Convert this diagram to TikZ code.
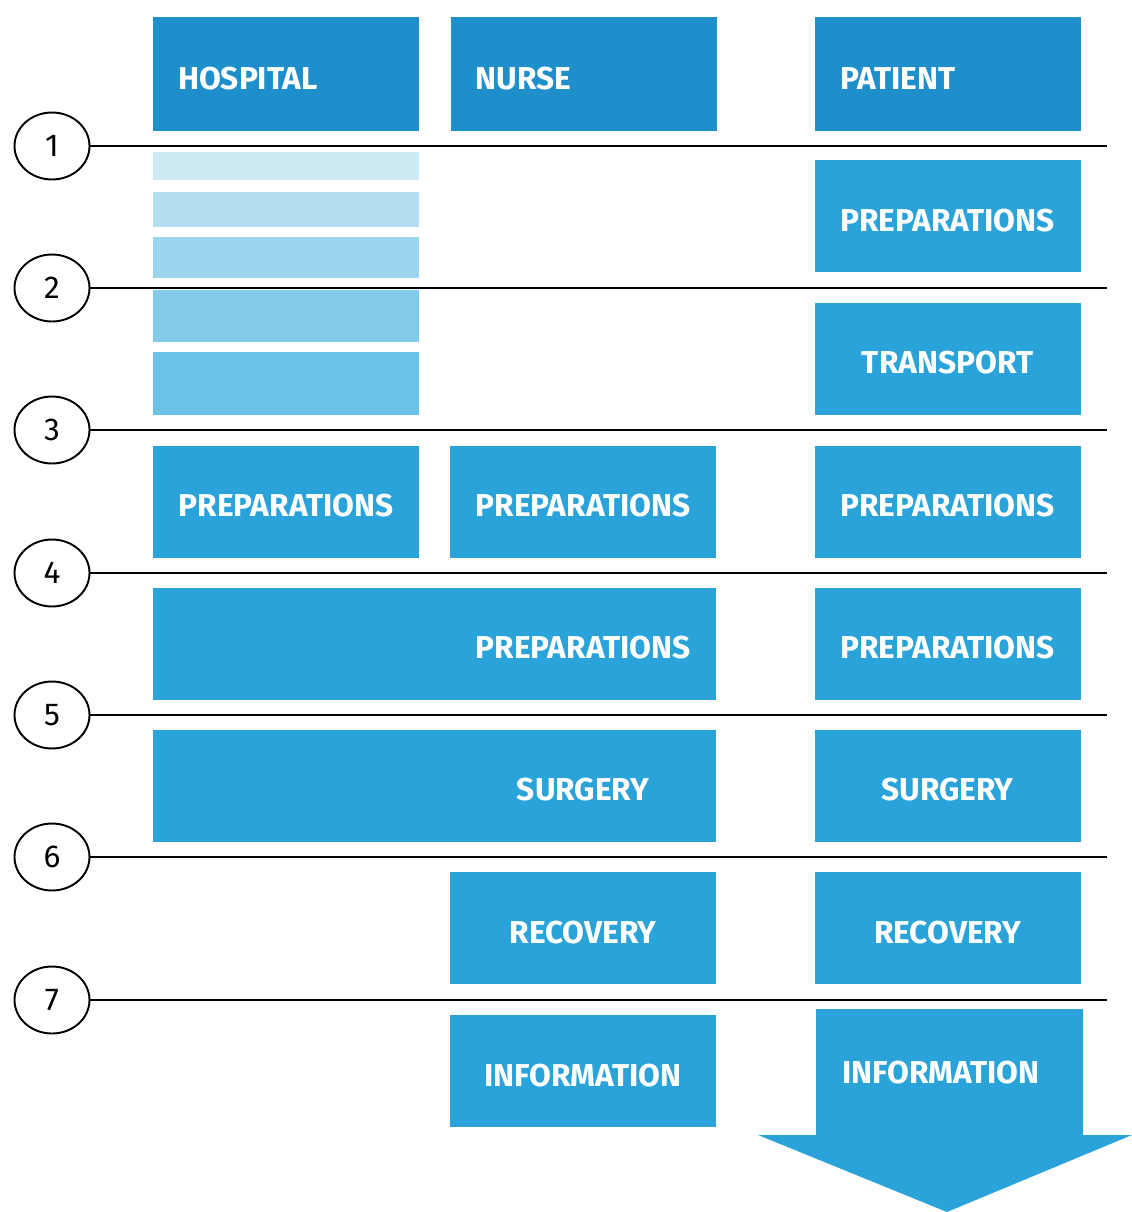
\documentclass[tikz,border=0pt]{standalone}
\usepackage{fontspec}
\setmainfont{Fira Sans}
\usepackage{tikz}
\usetikzlibrary{positioning,shapes.geometric}
\definecolor{headblue}{HTML}{1F8FCC}
\definecolor{boxblue}{HTML}{29A3DA}
\definecolor{fadeA}{HTML}{CDE9F4}
\definecolor{fadeB}{HTML}{B3DEF0}
\definecolor{fadeC}{HTML}{9CD5EE}
\definecolor{fadeD}{HTML}{82CBEA}
\definecolor{fadeE}{HTML}{6AC3E6}
\tikzset{%
	header/.style   = {fill=headblue, text=white, font=\bfseries\fontsize{18}{20}\selectfont, text width=4.32cm, inner xsep=0.5cm, minimum height=2.28cm, align=left, text height=0.6cm, text depth=0pt},
	block/.style    = {fill=boxblue, text=white, font=\bfseries\fontsize{18}{20}\selectfont, minimum width=5.32cm, minimum height=2.24cm, inner sep=0pt, text height=0.6cm, text depth=0pt},
	caption/.style  = {text=white, font=\bfseries\fontsize{18}{20}\selectfont, inner sep=0pt, text height=0.6cm, text depth=0pt},
	stripe/.style   = {minimum width=5.32cm, inner sep=0pt}, % fading bars
	stepmark/.style = {draw, ellipse, line width=1.1pt, minimum width=1.5cm, minimum height=1.34cm, inner sep=0pt, font=\fontsize{18}{20}\selectfont},
	stepline/.style = {line width=1.1pt},
}

\begin{document}
\begin{tikzpicture}
	\useasboundingbox (0,0) rectangle (22.64,-24.24);
	\node [header] (hosp) at (5.72,-1.48) {HOSPITAL};
	\node [header] (nurse) [right=0.62cm of hosp] {NURSE};
	\node [header] (pat) [right=1.96cm of nurse] {PATIENT};
	
	% numbered steps
	\foreach \n/\y in {1/-2.92,2/-5.76,3/-8.60,4/-11.46,5/-14.30,6/-17.14,7/-20.00} {
		\node [stepmark] (s\n) at (1.04,\y) {\n};
		\coordinate (e\n) at (22.14,\y);
		\draw [stepline] (s\n) -- (e\n);
	}
	
	% hospital fading bars
	\foreach \i/\c/\y/\h in {1/fadeA/-3.32/0.56,2/fadeB/-4.19/0.70,3/fadeC/-5.15/0.82,4/fadeD/-6.32/1.04,5/fadeE/-7.67/1.26}
		\node [stripe, fill=\c, minimum height=\h cm] (bar\i) at (5.72,\y) {};
	
	\node [block] (ppre1) at (18.95,-4.32) {PREPARATIONS};
	\node [block] (ptrans) at (18.95,-7.17) {TRANSPORT};
	
	\node [block] (hpre3) at (5.72,-10.03) {PREPARATIONS};
	\node [block] (npre3) at (11.66,-10.03) {PREPARATIONS};
	\node [block] (ppre3) at (18.95,-10.03) {PREPARATIONS};
	
	\node [block, minimum width=11.26cm] (hpre4) at (8.69,-12.87) {};
	\node [caption] (hpre4t) at (hpre4 -| npre3) {PREPARATIONS};
	\node [block] (ppre4) at (18.95,-12.87) {PREPARATIONS};
	
	\node [block, minimum width=11.26cm] (hsurg) at (8.69,-15.71) {};
	\node [caption] (hsurgt) at (hsurg -| npre3) {SURGERY};
	\node [block] (psurg) at (18.95,-15.71) {SURGERY};
	
	\node [block] (nrec) at (11.66,-18.56) {RECOVERY};
	\node [block] (prec) at (18.95,-18.56) {RECOVERY};
	
	\node [block] (ninfo) at (11.66,-21.42) {INFORMATION};
	% big arrow
	\fill [boxblue] (16.32,-20.18) -- (21.66,-20.18) -- (21.66,-22.70) -- (22.64,-22.70)
		-- (18.94,-24.24) -- (15.16,-22.70) -- (16.32,-22.70) -- cycle;
	\node [caption] (pinfo) at (18.82,-21.36) {INFORMATION};
\end{tikzpicture}
\end{document}
